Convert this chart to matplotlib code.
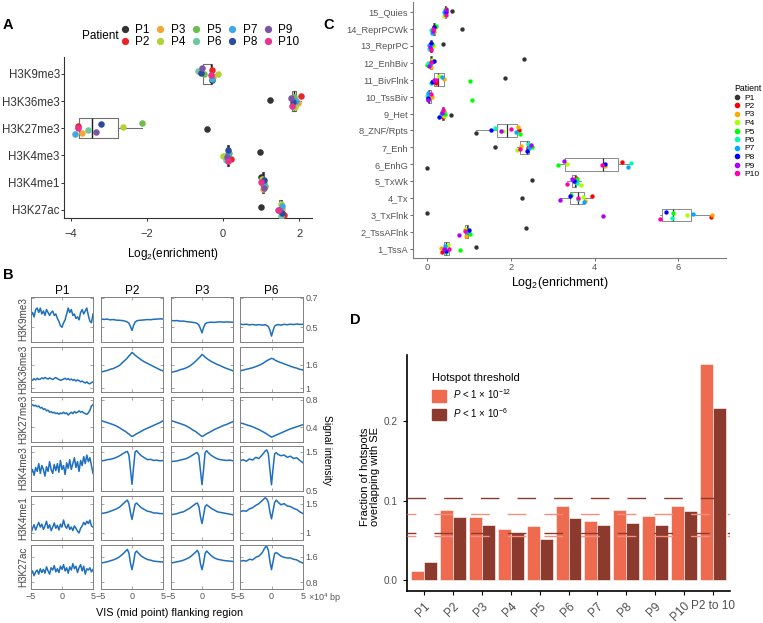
import numpy as np
import matplotlib
matplotlib.use('Agg')
import matplotlib.pyplot as plt
from matplotlib.lines import Line2D
from matplotlib.patches import Patch

plt.rcParams['font.family'] = ['Liberation Sans', 'DejaVu Sans']
plt.rcParams['mathtext.fontset'] = 'custom'
plt.rcParams['mathtext.rm'] = 'Liberation Sans'
plt.rcParams['mathtext.it'] = 'Liberation Sans:italic'

W, H = 763, 623

patients = ['P1', 'P2', 'P3', 'P4', 'P5', 'P6', 'P7', 'P8', 'P9', 'P10']
colors_a = ['#333333', '#e8262a', '#f7a531', '#b2d235', '#6cbf4b',
            '#6dc8a0', '#3fa9e1', '#2e4a9e', '#7b55a3', '#e9348f']
colors_c = ['#333333', '#ff0000', '#ffaa00', '#aaff00', '#00ff00',
            '#00ffaa', '#00aaff', '#0000ff', '#aa00ff', '#ff00aa']

# ---- panel A: log2 enrichment per histone mark (values for P1..P10)
marks_a = ['H3K9me3', 'H3K36me3', 'H3K27me3', 'H3K4me3', 'H3K4me1', 'H3K27ac']
a_h3k9me3 = [-0.30, -0.28, -0.27, -0.13, -0.50, -0.67, -0.28, -0.58, -0.55, -0.31]
a_h3k36me3 = [1.23, 2.05, 1.97, 1.90, 1.86, 1.84, 1.92, 1.85, 1.78, 1.82]
a_h3k27me3 = [-0.43, -3.82, -3.70, -2.62, -2.14, -3.54, -3.89, -3.22, -3.35, -3.80]
a_h3k4me3 = [0.96, 0.20, 0.10, 0.00, 0.15, 0.08, 0.12, 0.13, 0.10, 0.12]
a_h3k4me1 = [1.00, 1.05, 1.04, 1.02, 1.10, 1.08, 1.06, 1.07, 1.08, 1.00]
a_h3k27ac = [1.00, 1.60, 1.55, 1.52, 1.50, 1.53, 1.55, 1.56, 1.48, 1.45]

# ---- panel C: log2 enrichment per chromatin state (values for P1..P10)
states_c = ['1_TssA', '2_TssAFlnk', '3_TxFlnk', '4_Tx', '5_TxWk', '6_EnhG', '7_Enh',
            '8_ZNF/Rpts', '9_Het', '10_TssBiv', '11_BivFlnk', '12_EnhBiv',
            '13_ReprPC', '14_ReprPCWk', '15_Quies']
c_tssa = [1.17, 0.36, 0.32, 0.50, 0.79, 0.44, 0.42, 0.45, 0.40, 0.52]
c_tssaflnk = [2.36, 0.95, 0.92, 0.91, 1.03, 0.94, 0.96, 0.99, 0.75, 0.91]
c_txflnk = [0.00, 6.77, 6.81, 6.21, 5.88, 5.86, 6.35, 5.70, 4.21, 5.57]
c_tx = [2.26, 3.94, 3.78, 3.73, 3.43, 3.60, 3.75, 3.40, 3.18, 3.61]
c_txwk = [2.51, 3.55, 3.52, 3.67, 3.58, 3.57, 3.54, 3.50, 3.45, 3.35]
c_enhg = [0.00, 4.66, 4.25, 3.33, 3.12, 4.87, 4.79, 4.25, 3.27, 4.17]
c_enh = [1.61, 2.40, 2.24, 2.14, 2.51, 2.42, 2.44, 2.38, 2.49, 2.22]
c_znf = [1.17, 2.19, 2.16, 1.81, 2.21, 1.63, 2.12, 1.53, 1.77, 2.01]
c_het = [0.58, 0.38, 0.40, 0.40, 0.42, 0.33, 0.35, 0.27, 0.36, 0.37]
c_tssbiv = [0.02, 0.06, 0.12, 0.04, 1.06, 0.00, 0.01, 0.02, 0.03, 0.09]
c_bivflnk = [1.87, 0.22, 0.41, 0.28, 1.03, 0.08, 0.36, 0.12, 0.16, 0.20]
c_enhbiv = [2.31, 0.07, 0.09, 0.12, 0.00, 0.01, 0.10, 0.16, 0.05, 0.08]
c_reprpc = [0.38, 0.08, 0.10, 0.13, 0.12, 0.05, 0.04, 0.09, 0.06, 0.08]
c_reprpcwk = [0.84, 0.16, 0.15, 0.18, 0.22, 0.10, 0.12, 0.17, 0.13, 0.14]
c_quies = [0.60, 0.44, 0.43, 0.39, 0.42, 0.43, 0.40, 0.45, 0.46, 0.45]

# ---- panel B: signal intensity around VIS (x in units of 1e4 bp)
b_patients = ['P1', 'P2', 'P3', 'P6']
b_marks = ['H3K9me3', 'H3K36me3', 'H3K27me3', 'H3K4me3', 'H3K4me1', 'H3K27ac']
b_ylims = [(0.40, 0.705), (0.90, 2.05), (0.19, 0.84), (0.50, 1.65), (0.88, 1.63), (0.58, 1.97)]
b_yticks = [[0.5, 0.7], [1, 1.6], [0.4, 0.8], [0.5, 1.5], [1, 1.5], [0.8, 1.6]]
b_yticklabels = [['0.5', '0.7'], ['1', '1.6'], ['0.4', '0.8'], ['0.5', '1.5'], ['1', '1.5'], ['0.8', '1.6']]
x_p1 = np.linspace(-5, 5, 41)
x_fine = [-5, -4.5, -4, -3.5, -3, -2.5, -2, -1.5, -1, -0.75, -0.5, -0.25, 0,
          0.25, 0.5, 0.75, 1, 1.5, 2, 2.5, 3, 3.5, 4, 4.5, 5]
b_p1 = [
    [0.58, 0.60, 0.57, 0.62, 0.63, 0.60, 0.63, 0.59, 0.61, 0.58, 0.62, 0.60, 0.58, 0.60,
     0.61, 0.58, 0.59, 0.56, 0.54, 0.51, 0.50, 0.53, 0.55, 0.59, 0.63, 0.60, 0.62, 0.58,
     0.59, 0.56, 0.57, 0.55, 0.60, 0.62, 0.59, 0.61, 0.63, 0.58, 0.54, 0.53, 0.59],
    [1.22, 1.20, 1.24, 1.21, 1.25, 1.22, 1.23, 1.26, 1.24, 1.27, 1.25, 1.23, 1.26, 1.24,
     1.22, 1.25, 1.27, 1.24, 1.22, 1.20, 1.21, 1.23, 1.25, 1.22, 1.24, 1.21, 1.23, 1.20,
     1.22, 1.18, 1.21, 1.19, 1.16, 1.18, 1.15, 1.13, 1.16, 1.12, 1.11, 1.14, 1.16],
    [0.72, 0.73, 0.71, 0.72, 0.70, 0.71, 0.68, 0.69, 0.66, 0.67, 0.64, 0.65, 0.62, 0.63,
     0.61, 0.62, 0.60, 0.61, 0.59, 0.61, 0.60, 0.62, 0.60, 0.61, 0.58, 0.60, 0.62, 0.60,
     0.63, 0.61, 0.62, 0.64, 0.62, 0.63, 0.61, 0.60, 0.59, 0.61, 0.65, 0.71, 0.73],
    [0.95, 1.05, 0.90, 1.10, 1.00, 1.20, 0.95, 1.15, 1.05, 0.88, 1.12, 1.00, 1.25, 1.05,
     0.95, 1.18, 1.02, 1.20, 0.98, 1.28, 1.05, 1.15, 0.92, 1.22, 1.08, 1.30, 1.05, 1.20,
     1.35, 1.10, 1.25, 1.00, 1.28, 1.15, 1.38, 1.20, 1.42, 1.25, 1.35, 1.15, 0.95],
    [1.00, 1.08, 1.14, 1.05, 1.12, 1.18, 1.10, 1.15, 1.06, 1.12, 1.20, 1.08, 1.14, 1.04,
     1.10, 1.17, 1.08, 1.13, 1.05, 1.15, 1.10, 1.22, 1.12, 1.08, 1.15, 1.06, 1.10, 1.04,
     1.12, 1.08, 1.03, 1.00, 1.08, 1.12, 1.18, 1.14, 1.20, 1.16, 1.22, 1.12, 1.10],
    [1.05, 1.15, 1.00, 1.12, 1.18, 1.05, 1.22, 1.10, 1.20, 1.08, 1.28, 1.15, 1.05, 1.25,
     1.18, 1.32, 1.12, 1.22, 1.10, 1.30, 1.20, 1.35, 1.15, 1.25, 1.08, 1.28, 1.18, 1.38,
     1.22, 1.30, 1.10, 1.25, 1.35, 1.15, 1.30, 1.05, 1.22, 1.18, 1.25, 1.12, 1.20],
]
b_p2 = [
    [0.556, 0.553, 0.555, 0.550, 0.552, 0.548, 0.547, 0.545, 0.540, 0.535, 0.528, 0.505, 0.478,
     0.512, 0.535, 0.543, 0.546, 0.548, 0.550, 0.552, 0.551, 0.554, 0.555, 0.557, 0.556],
    [1.41, 1.43, 1.45, 1.48, 1.50, 1.54, 1.58, 1.66, 1.73, 1.77, 1.82, 1.86, 1.91,
     1.88, 1.84, 1.81, 1.78, 1.72, 1.67, 1.63, 1.59, 1.55, 1.51, 1.47, 1.44],
    [0.50, 0.485, 0.47, 0.455, 0.44, 0.42, 0.395, 0.365, 0.34, 0.32, 0.305, 0.285, 0.27,
     0.28, 0.295, 0.31, 0.32, 0.345, 0.37, 0.39, 0.41, 0.43, 0.45, 0.47, 0.495],
    [1.27, 1.28, 1.30, 1.31, 1.33, 1.36, 1.40, 1.45, 1.50, 1.51, 1.42, 1.05, 0.67,
     1.10, 1.50, 1.53, 1.48, 1.40, 1.35, 1.30, 1.31, 1.28, 1.29, 1.27, 1.28],
    [1.33, 1.34, 1.35, 1.37, 1.39, 1.41, 1.44, 1.49, 1.54, 1.56, 1.50, 1.35, 1.23,
     1.36, 1.49, 1.51, 1.48, 1.43, 1.40, 1.37, 1.36, 1.34, 1.34, 1.33, 1.33],
    [1.40, 1.42, 1.44, 1.47, 1.50, 1.54, 1.60, 1.68, 1.78, 1.83, 1.72, 1.40, 1.19,
     1.42, 1.72, 1.78, 1.72, 1.62, 1.56, 1.51, 1.49, 1.46, 1.45, 1.44, 1.43],
]
b_p3 = [
    [0.546, 0.544, 0.545, 0.541, 0.542, 0.538, 0.536, 0.533, 0.530, 0.525, 0.515, 0.490, 0.462,
     0.498, 0.522, 0.530, 0.532, 0.534, 0.533, 0.535, 0.537, 0.534, 0.536, 0.535, 0.534],
    [1.40, 1.42, 1.44, 1.47, 1.49, 1.52, 1.56, 1.62, 1.69, 1.73, 1.77, 1.81, 1.86,
     1.83, 1.79, 1.76, 1.73, 1.68, 1.64, 1.60, 1.57, 1.53, 1.50, 1.47, 1.44],
    [0.50, 0.485, 0.47, 0.455, 0.44, 0.42, 0.395, 0.365, 0.34, 0.32, 0.305, 0.285, 0.27,
     0.28, 0.295, 0.31, 0.32, 0.345, 0.37, 0.39, 0.41, 0.43, 0.445, 0.465, 0.485],
    [1.25, 1.26, 1.27, 1.29, 1.31, 1.33, 1.37, 1.42, 1.47, 1.48, 1.40, 1.02, 0.66,
     1.05, 1.48, 1.53, 1.48, 1.41, 1.36, 1.32, 1.30, 1.29, 1.28, 1.29, 1.27],
    [1.31, 1.32, 1.33, 1.35, 1.36, 1.39, 1.42, 1.46, 1.50, 1.51, 1.45, 1.28, 1.16,
     1.30, 1.45, 1.48, 1.46, 1.42, 1.39, 1.36, 1.35, 1.34, 1.33, 1.32, 1.31],
    [1.40, 1.42, 1.44, 1.46, 1.49, 1.53, 1.58, 1.66, 1.75, 1.80, 1.70, 1.38, 1.19,
     1.40, 1.70, 1.78, 1.73, 1.63, 1.56, 1.52, 1.50, 1.48, 1.47, 1.46, 1.45],
]
b_p6 = [
    [0.522, 0.518, 0.521, 0.516, 0.519, 0.515, 0.518, 0.514, 0.517, 0.512, 0.505, 0.480, 0.440,
     0.478, 0.508, 0.515, 0.518, 0.514, 0.520, 0.517, 0.521, 0.518, 0.522, 0.519, 0.520],
    [1.44, 1.46, 1.48, 1.50, 1.52, 1.55, 1.58, 1.62, 1.67, 1.70, 1.72, 1.74, 1.76,
     1.75, 1.72, 1.70, 1.68, 1.65, 1.62, 1.59, 1.56, 1.53, 1.51, 1.48, 1.46],
    [0.465, 0.455, 0.44, 0.425, 0.41, 0.39, 0.37, 0.345, 0.32, 0.305, 0.29, 0.275, 0.26,
     0.27, 0.28, 0.29, 0.30, 0.32, 0.34, 0.36, 0.38, 0.395, 0.41, 0.425, 0.44],
    [1.27, 1.30, 1.26, 1.32, 1.29, 1.36, 1.33, 1.42, 1.52, 1.55, 1.45, 1.05, 0.66,
     1.08, 1.45, 1.48, 1.44, 1.40, 1.42, 1.36, 1.39, 1.33, 1.35, 1.28, 1.22],
    [1.36, 1.38, 1.37, 1.41, 1.43, 1.47, 1.50, 1.55, 1.60, 1.58, 1.52, 1.36, 1.24,
     1.38, 1.52, 1.56, 1.53, 1.48, 1.50, 1.46, 1.45, 1.42, 1.40, 1.36, 1.33],
    [1.45, 1.48, 1.46, 1.52, 1.50, 1.58, 1.62, 1.72, 1.90, 1.93, 1.80, 1.45, 1.19,
     1.45, 1.70, 1.73, 1.70, 1.62, 1.58, 1.56, 1.56, 1.52, 1.50, 1.44, 1.40],
]

# ---- panel D: fraction of hotspots overlapping super-enhancers
groups_d = ['P1', 'P2', 'P3', 'P4', 'P5', 'P6', 'P7', 'P8', 'P9', 'P10', 'P2 to 10']
d_p12 = [0.0114, 0.089, 0.079, 0.064, 0.0686, 0.094, 0.0746, 0.0886, 0.081, 0.094, 0.272]
d_p6 = [0.0225, 0.079, 0.0695, 0.060, 0.052, 0.078, 0.069, 0.0725, 0.0695, 0.0869, 0.217]
d_ref_p12 = [0.083, 0.0555]
d_ref_p6 = [0.103, 0.059]

jitter = [0.10, -0.18, 0.04, 0.20, -0.06, -0.22, 0.14, -0.12, 0.00, -0.02]


def box(x0, y0, x1, y1):
    return [x0 / W, 1 - y1 / H, (x1 - x0) / W, (y1 - y0) / H]


def ftext(x, y, s, **kw):
    fig.text(x / W, 1 - y / H, s, **kw)


def dot_box(ax, data, colors, size, boxcol, medcol, lw):
    pos = np.arange(len(data))
    ax.boxplot(data, positions=pos, orientation='horizontal', widths=0.75,
               showfliers=False, showcaps=False,
               boxprops=dict(color=boxcol, lw=lw), whiskerprops=dict(color=boxcol, lw=lw),
               medianprops=dict(color=medcol, lw=lw * 1.3))
    for i, vals in enumerate(data):
        for j, v in enumerate(vals):
            ax.scatter(v, pos[i] + jitter[(j + 3 * i) % 10], s=size, color=colors[j],
                       lw=0, zorder=3)


fig = plt.figure(figsize=(W / 100, H / 100), dpi=100)

# ---------------- A
axA = fig.add_axes(box(64, 57, 312, 218))
data_a = [a_h3k9me3, a_h3k36me3, a_h3k27me3, a_h3k4me3, a_h3k4me1, a_h3k27ac][::-1]
dot_box(axA, data_a, colors_a, 22, '#707070', '#222222', 0.8)
axA.set_yticks(range(6))
axA.set_yticklabels(marks_a[::-1])
axA.set_xticks([-4, -2, 0, 2])
axA.set_xticklabels(['\u22124', '\u22122', '0', '2'])
axA.set_xlim(-4.18, 2.34)
axA.set_ylim(-0.3, 5.62)
for s in ['top', 'right']:
    axA.spines[s].set_visible(False)
for s in ['left', 'bottom']:
    axA.spines[s].set_color('#333333')
    axA.spines[s].set_linewidth(0.8)
axA.tick_params(labelsize=8.3, colors='#333333', length=2, width=0.7)
axA.tick_params(axis='y', pad=1)
axA.tick_params(axis='x', pad=6, labelsize=8)
ftext(173, 254, 'Log$_2$(enrichment)', ha='center', va='center', fontsize=8.5)
ftext(82, 36, 'Patient', ha='left', va='center', fontsize=8.5)
hA = [Line2D([], [], marker='o', ls='', color=c, markersize=4.2) for c in colors_a]
fig.legend(hA, patients, ncol=5, loc='center left', bbox_to_anchor=(120 / W, 1 - 36 / H),
           frameon=False, fontsize=8.5, handlelength=0.8, handletextpad=0.5,
           columnspacing=0.5, labelspacing=0.05, borderpad=0, borderaxespad=0)

# ---------------- C
axC = fig.add_axes(box(413, 2, 726, 258))
data_c = [c_tssa, c_tssaflnk, c_txflnk, c_tx, c_txwk, c_enhg, c_enh, c_znf, c_het,
          c_tssbiv, c_bivflnk, c_enhbiv, c_reprpc, c_reprpcwk, c_quies]
dot_box(axC, data_c, colors_c, 10, '#8a8a8a', '#333333', 0.7)
axC.set_yticks(range(15))
axC.set_yticklabels(states_c)
axC.set_xticks([0, 2, 4, 6])
axC.set_xlim(-0.34, 7.14)
axC.set_ylim(-0.55, 14.6)
for s in ['top', 'right']:
    axC.spines[s].set_visible(False)
for s in ['left', 'bottom']:
    axC.spines[s].set_color('#7a7a7a')
    axC.spines[s].set_linewidth(0.8)
axC.tick_params(labelsize=6.7, colors='#555555', length=2, width=0.6, pad=1.5)
ftext(560, 283, 'Log$_2$(enrichment)', ha='center', va='center', fontsize=9)
hC = [Line2D([], [], marker='o', ls='', color=c, markersize=3) for c in colors_c]
fig.legend(hC, patients, loc='upper left', bbox_to_anchor=(734 / W, 1 - 84 / H),
           frameon=False, fontsize=6, title='Patient', title_fontsize=6.3,
           handlelength=0.8, handletextpad=0.4, labelspacing=0.08, borderpad=0,
           borderaxespad=0, alignment='left')

# ---------------- B
col_x = [(31, 93), (101, 163), (171, 233), (240, 303)]
row_y = [(297, 342), (347, 392), (397, 442), (446, 491), (496, 540), (545, 589)]
b_cols = [b_p1, b_p2, b_p3, b_p6]
for r in range(6):
    for c in range(4):
        ax = fig.add_axes(box(col_x[c][0], row_y[r][0], col_x[c][1], row_y[r][1]))
        xs = x_p1 if c == 0 else x_fine
        ax.plot(xs, b_cols[c][r], color='#1f6fbf', lw=1.1)
        ax.set_xlim(-5, 5)
        ax.set_ylim(*b_ylims[r])
        ax.set_xticks([-5, 0, 5])
        ax.set_yticks(b_yticks[r])
        ax.set_xticklabels(['\u22125', '0', '5'])
        ax.set_yticklabels(b_yticklabels[r])
        for s in ax.spines.values():
            s.set_color('#808080')
            s.set_linewidth(0.7)
        ax.tick_params(direction='in', length=2, width=0.5, color='#808080',
                       top=True, right=True, labelsize=6.5, labelcolor='#555555', pad=2,
                       labelleft=False, labelright=(c == 3), labelbottom=(r == 5))
        if r == 0:
            ax.set_title(b_patients[c], fontsize=8.5, pad=2)
        if c == 0:
            ax.set_ylabel(b_marks[r], fontsize=7.1, color='#444444', labelpad=2)
ftext(308, 598, '\u00d710$^4$ bp', ha='left', va='center', fontsize=6.5, color='#555555')
ftext(170, 613, 'VIS (mid point) flanking region', ha='center', va='center', fontsize=7.8)
ftext(327, 450, 'Signal intensity', ha='center', va='center', fontsize=7.5, rotation=270)

# ---------------- D
axD = fig.add_axes(box(407, 355, 730, 591))
light, dark = '#ef6b50', '#8c3a2e'
xd = np.arange(len(groups_d))
axD.bar(xd - 0.225, d_p12, width=0.45, color=light, edgecolor='white', lw=0.4)
axD.bar(xd + 0.225, d_p6, width=0.45, color=dark, edgecolor='white', lw=0.4)
axD.axhline(d_ref_p6[0], color='#8c3a2e', lw=1.0, ls=(0, (13.4, 13)), zorder=3)
axD.axhline(d_ref_p12[0], color='#f3907e', lw=1.0, ls=(7, (13.4, 13)), zorder=3)
axD.axhline(d_ref_p6[1], color='#8c3a2e', lw=1.0, ls=(7, (13.4, 13)), zorder=3)
axD.axhline(d_ref_p12[1], color='#f3907e', lw=1.0, ls=(7, (13.4, 13)), zorder=3)
axD.set_xlim(-0.6, 10.6)
axD.set_ylim(-0.0135, 0.2835)
axD.set_yticks([0, 0.1, 0.2])
axD.set_yticklabels(['0.0', '0.1', '0.2'])
axD.set_xticks(xd)
axD.set_xticklabels(groups_d)
for lab in axD.get_xticklabels()[:-1]:
    lab.set_rotation(45)
    lab.set_ha('right')
    lab.set_rotation_mode('anchor')
for s in ['top', 'right']:
    axD.spines[s].set_visible(False)
for s in ['left', 'bottom']:
    axD.spines[s].set_linewidth(1.2)
axD.tick_params(axis='y', labelsize=7.2, labelcolor='#4d4d4d', length=3)
axD.tick_params(axis='x', labelsize=8.5, labelcolor='#4d4d4d', length=3)
ftext(370, 477, 'Fraction of hotspots\noverlapping with SE', ha='center', va='center',
      fontsize=8, rotation=90, linespacing=1.1)
hD = [Patch(color=light), Patch(color=dark)]
fig.legend(hD, ['$\\it{P}$ < 1 \u00d7 10$^{-12}$', '$\\it{P}$ < 1 \u00d7 10$^{-6}$'],
           loc='upper left', bbox_to_anchor=(432 / W, 1 - 373 / H), frameon=False,
           fontsize=7, title='Hotspot threshold', title_fontsize=8, handlelength=1.4,
           handleheight=1.4, labelspacing=0.45, handletextpad=0.8, borderpad=0,
           borderaxespad=0, alignment='left')

# panel letters
for letter, (lx, ly) in zip('ABCD', [(8, 25), (8, 275), (329, 25), (355, 320)]):
    ftext(lx, ly, letter, ha='center', va='center', fontsize=10.5, fontweight='bold')

fig.savefig('out.png', dpi=100)
